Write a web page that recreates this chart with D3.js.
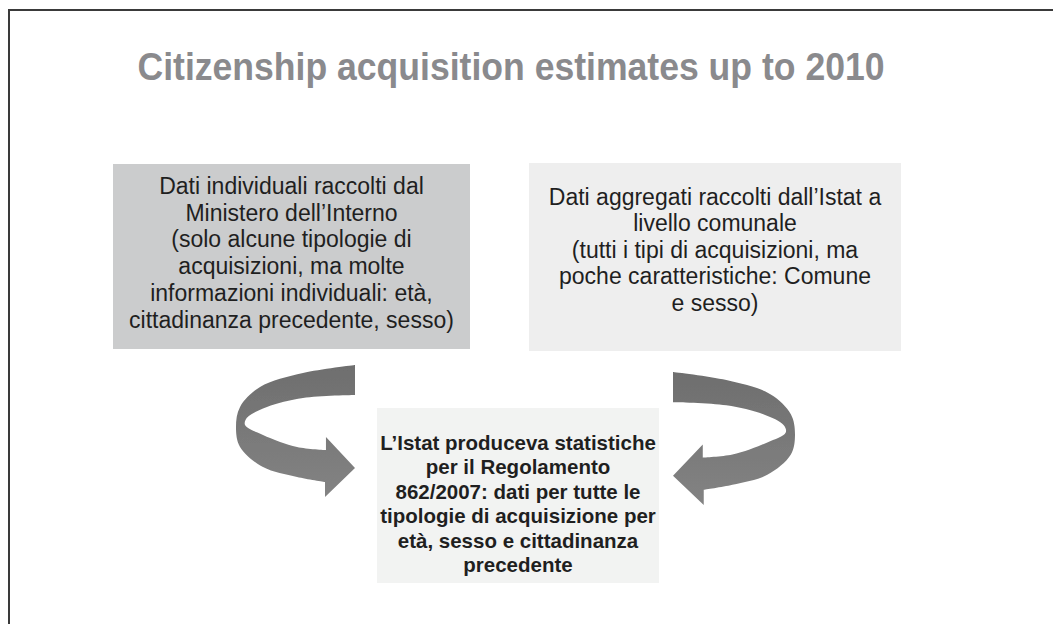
<!DOCTYPE html>
<html><head><meta charset="utf-8">
<script src="https://cdn.jsdelivr.net/npm/d3@7"></script>
<style>body{margin:0;background:#fff;}svg{display:block;}</style>
</head><body>
<svg id="chart" width="1053" height="624"></svg>
<script>
// ---- content ----
const titleText = "Citizenship acquisition estimates up to 2010";
const leftBoxLines = [
  "Dati individuali raccolti dal",
  "Ministero dell\u2019Interno",
  "(solo alcune tipologie di",
  "acquisizioni, ma molte",
  "informazioni individuali: et\u00e0,",
  "cittadinanza precedente, sesso)"
];
const rightBoxLines = [
  "Dati aggregati raccolti dall\u2019Istat a",
  "livello comunale",
  "(tutti i tipi di acquisizioni, ma",
  "poche caratteristiche: Comune",
  "e sesso)"
];
const centerBoxLines = [
  "L\u2019Istat produceva statistiche",
  "per il Regolamento",
  "862/2007: dati per tutte le",
  "tipologie di acquisizione per",
  "et\u00e0, sesso e cittadinanza",
  "precedente"
];

// ---- layout ----
const font = "'Liberation Sans', Arial, Helvetica, sans-serif";
const boxes = [
  {lines: leftBoxLines,   x0: 113, x1: 470, y0: 164, y1: 349, fill: "#cbcccd", size: 23,   weight: "normal", base: 194, step: 26.7},
  {lines: rightBoxLines,  x0: 529, x1: 901, y0: 163, y1: 351, fill: "#eeeeee", size: 23,   weight: "normal", base: 205, step: 26.4},
  {lines: centerBoxLines, x0: 377, x1: 659, y0: 408, y1: 583, fill: "#f2f3f2", size: 20.5, weight: "bold",   base: 450, step: 24.4}
];
// arrow outline in unit coordinates (left arrow; right arrow is mirrored)
const arrowOuter = [[1,0],[0.563,0.061],[0.202,0.167],[0.034,0.318],[0,0.47],[0.034,0.621],[0.227,0.773],[0.513,0.848],[0.748,0.886]];
const arrowHead  = [[0.748,1],[1,0.78],[0.756,0.545],[0.756,0.644]];
const arrowInner = [[0.756,0.644],[0.513,0.621],[0.227,0.53],[0.076,0.455],[0.092,0.40],[0.26,0.318],[0.563,0.25],[1,0.227]];
const arrows = [
  {x0: 236, x1: 355, y0: 365, y1: 497, mirror: false},
  {x0: 673, x1: 795, y0: 372, y1: 505, mirror: true}
];

const svg = d3.select("#chart");
const defs = svg.append("defs");
const grad = defs.append("linearGradient").attr("id","ag").attr("x1",0).attr("y1",0).attr("x2",0).attr("y2",1);
grad.append("stop").attr("offset","0%").attr("stop-color","#6e6e6e");
grad.append("stop").attr("offset","55%").attr("stop-color","#7a7a7a");
grad.append("stop").attr("offset","100%").attr("stop-color","#838383");
defs.append("filter").attr("id","blur").append("feGaussianBlur").attr("stdDeviation",0.6);

// frame
svg.append("rect").attr("x",9).attr("y",10).attr("width",1060).attr("height",640)
  .attr("fill","none").attr("stroke","#3a3a3a").attr("stroke-width",2);

// title
svg.append("text").attr("x",511).attr("y",80).attr("text-anchor","middle")
  .attr("font-family",font).attr("font-weight","bold").attr("font-size",39)
  .attr("fill","#8a8a8d").attr("textLength",747).attr("lengthAdjust","spacingAndGlyphs")
  .text(titleText);

// boxes
boxes.forEach(b => {
  svg.append("rect").attr("x",b.x0).attr("y",b.y0).attr("width",b.x1-b.x0).attr("height",b.y1-b.y0)
    .attr("fill",b.fill);
  const cx = (b.x0+b.x1)/2;
  const ys = d3.scaleLinear().domain([0,1]).range([b.base, b.base+b.step]);
  svg.append("g").selectAll("text").data(b.lines).join("text")
    .attr("x",cx).attr("y",(d,i)=>ys(i)).attr("text-anchor","middle")
    .attr("font-family",font).attr("font-size",b.size).attr("font-weight",b.weight)
    .attr("fill","#1f1f1f").text(d=>d);
});

// arrows
const curve = d3.line().curve(d3.curveCatmullRom.alpha(0.5));
arrows.forEach(a => {
  const sx = d3.scaleLinear().domain([0,1]).range(a.mirror ? [a.x1,a.x0] : [a.x0,a.x1]);
  const sy = d3.scaleLinear().domain([0,1]).range([a.y0,a.y1]);
  const P = pts => pts.map(p => [sx(p[0]), sy(p[1])]);
  let d = curve(P(arrowOuter));
  d += P(arrowHead).map(p => "L" + p[0] + "," + p[1]).join("");
  d += curve(P(arrowInner)).replace(/^M/, "L");
  d += "Z";
  svg.append("path").attr("d",d).attr("fill","url(#ag)").attr("filter","url(#blur)");
});
</script>
</body></html>
